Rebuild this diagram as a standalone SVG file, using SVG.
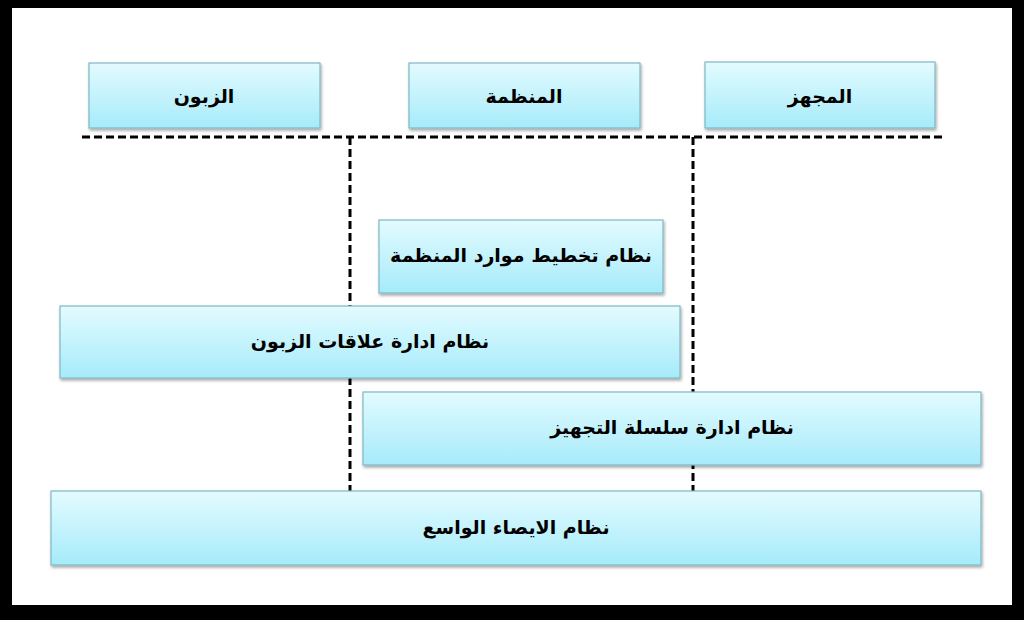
<svg xmlns="http://www.w3.org/2000/svg" width="1024" height="620" viewBox="0 0 1024 620">
<defs>
<linearGradient id="g" x1="0" y1="0" x2="0" y2="1"><stop offset="0" stop-color="#e3fbff"/><stop offset="1" stop-color="#a6ebfa"/></linearGradient>
<filter id="s" x="-5%" y="-10%" width="110%" height="130%"><feDropShadow dx="1" dy="2" stdDeviation="1.5" flood-color="#000" flood-opacity="0.35"/></filter>
</defs>
<style>
.b{fill:url(#g);stroke:#7fb8c4;stroke-width:1.2;filter:url(#s)}
.t{font-family:"DejaVu Sans",sans-serif;font-weight:bold;font-size:19px;fill:#000;text-anchor:middle;direction:rtl}
.d{stroke:#000;stroke-width:3;stroke-dasharray:8,4;fill:none}
</style>
<rect x="0" y="0" width="1024" height="620" fill="#000"/>
<rect x="12" y="8" width="1000" height="597" fill="#fff"/>
<g id="connectors">
<line class="d" x1="82" y1="137" x2="945" y2="137"/>
<line class="d" x1="350" y1="137" x2="350" y2="492"/>
<line class="d" x1="693" y1="137" x2="693" y2="492"/>
</g>
<g id="n1"><rect class="b" x="89" y="63" width="231" height="65"/><text class="t" x="204" y="103">الزبون</text></g>
<g id="n2"><rect class="b" x="409" y="63" width="231" height="65"/><text class="t" x="524" y="103">المنظمة</text></g>
<g id="n3"><rect class="b" x="705" y="62" width="230" height="66"/><text class="t" x="820" y="103">المجهز</text></g>
<g id="n4"><rect class="b" x="379" y="220" width="284" height="73"/><text class="t" x="521" y="262">نظام تخطيط موارد المنظمة</text></g>
<g id="n5"><rect class="b" x="60" y="306" width="620" height="72"/><text class="t" x="370" y="348">نظام ادارة علاقات الزبون</text></g>
<g id="n6"><rect class="b" x="363" y="392" width="618" height="73"/><text class="t" x="672" y="434">نظام ادارة سلسلة التجهيز</text></g>
<g id="n7"><rect class="b" x="51" y="491" width="930" height="74"/><text class="t" x="516" y="534">نظام الايصاء الواسع</text></g>
</svg>
